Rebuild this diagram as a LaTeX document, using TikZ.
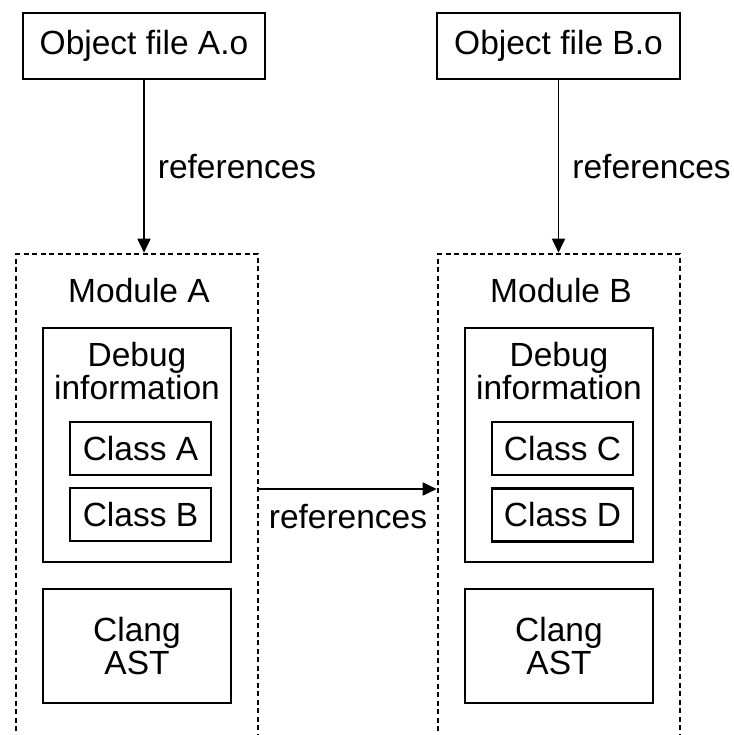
\documentclass[tikz,border=0pt]{standalone}
\usepackage{fontspec}
\setmainfont{Liberation Sans}
\usetikzlibrary{arrows.meta}
\tikzset{
  box/.style={draw, line width=2.3pt, inner sep=0pt, font=\fontsize{33.5}{33}\selectfont, align=center},
  modbox/.style={draw, line width=2.6pt, dash pattern=on 5pt off 3.5pt, inner sep=0pt},
  lbl/.style={font=\fontsize{33.5}{33}\selectfont, inner sep=0pt},
  conn/.style={line width=1.8pt, -{Triangle[length=14pt,width=13pt]}}
}
\begin{document}
\begin{tikzpicture}[x=1pt,y=-1pt]
\useasboundingbox (0,0) rectangle (733,735);
\begin{scope}
\clip (0,0) rectangle (733,735);
% top object files
\node[box, minimum width=242pt, minimum height=66pt] (objA) at (144,46) {Object file A.o};
\node[box, minimum width=243pt, minimum height=66pt] (objB) at (558.5,46) {Object file B.o};
% modules
\node[modbox, minimum width=242pt, minimum height=506pt] (modA) at (137,507) {};
\node[modbox, minimum width=242pt, minimum height=506pt] (modB) at (559,507) {};
\node[lbl, anchor=base] (modAt) at (139,302) {Module A};
\node[lbl, anchor=base] (modBt) at (561,302) {Module B};
% debug info boxes
\node[box, minimum width=188pt, minimum height=234pt] (dbgA) at (137,445) {};
\node[box, minimum width=188pt, minimum height=234pt] (dbgB) at (559,445) {};
\node[lbl, anchor=base, align=center] (dbgAt) at (137,399) {Debug\\information};
\node[lbl, anchor=base, align=center] (dbgBt) at (559,399) {Debug\\information};
% classes
\node[box, minimum width=141pt, minimum height=53pt] (clsA) at (140.5,448.5) {Class A};
\node[box, minimum width=141pt, minimum height=53pt] (clsB) at (140.5,514.5) {Class B};
\node[box, minimum width=141pt, minimum height=53pt] (clsC) at (562.5,448.5) {Class C};
\node[box, minimum width=141pt, minimum height=53pt] (clsD) at (562.5,515) {Class D};
% clang AST
\node[box, minimum width=188pt, minimum height=114pt] (astA) at (137,646) {Clang\\AST};
\node[box, minimum width=188pt, minimum height=114pt] (astB) at (559,646) {Clang\\AST};
% connectors
\coordinate (h) at (0,489);
\draw[conn] (objA.south) -- (objA.south |- modA.north)
  node[midway, right, lbl, xshift=13pt] (refA) {references};
\draw[conn] (objB.south) -- (objB.south |- modB.north)
  node[midway, right, lbl, xshift=13pt] (refB) {references};
\draw[conn] (modA.east |- h) -- (modB.west |- h)
  node[midway, below, lbl, yshift=-14pt] (refM) {references};
\end{scope}
\end{tikzpicture}
\end{document}
